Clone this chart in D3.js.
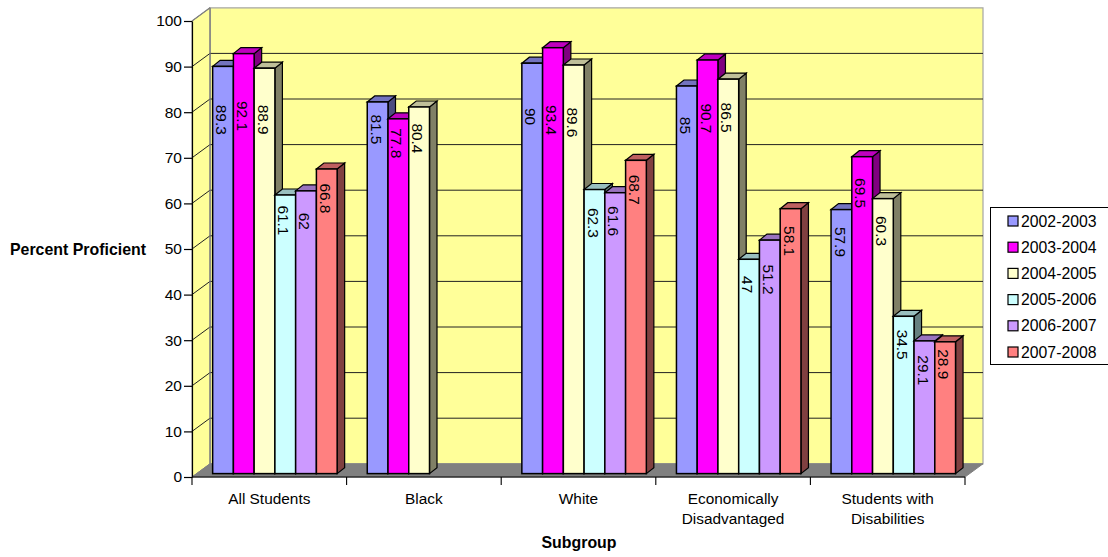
<!DOCTYPE html>
<html><head><meta charset="utf-8">
<script src="https://cdn.jsdelivr.net/npm/d3@7/dist/d3.min.js"></script>
<style>html,body{margin:0;padding:0;background:#fff}svg{display:block}text{font-family:"Liberation Sans",Arial,sans-serif;fill:#000}</style>
</head><body><svg id="c" width="1108" height="557"></svg>
<script>
const categories=["All Students","Black","White","Economically|Disadvantaged","Students with|Disabilities"];
const seriesNames=["2002-2003","2003-2004","2004-2005","2005-2006","2006-2007","2007-2008"];
const s2002=[89.3,81.5,90,85,57.9];
const s2003=[92.1,77.8,93.4,90.7,69.5];
const s2004=[88.9,80.4,89.6,86.5,60.3];
const s2005=[61.1,null,62.3,47,34.5];
const s2006=[62,null,61.6,51.2,29.1];
const s2007=[66.8,null,68.7,58.1,28.9];
const seriesValues=[s2002,s2003,s2004,s2005,s2006,s2007];
const yTicks=d3.range(0,101,10);
// styling and label placement (distance of each label's centre below its bar top)
const colors=["#9999FF","#FF00FF","#FFFFCC","#CCFFFF","#CC99FF","#FF8080"];
const sideColors=["#4d4d80","#800080","#808066","#668080","#664d80","#804040"];
const topColors=["#7373bf","#bf00bf","#bfbf99","#99bfbf","#9973bf","#bf6060"];
const labelDrop=[[54,28,54,40,33],[63,25,73,59,37],[52,32,58,39,33],[26,0,34,26,29],[31,0,29,40,30],[30,0,30,33,23]];

const svg=d3.select("#c");
const x=d3.scaleBand().domain(d3.range(categories.length)).range([192,965]);
const y=d3.scaleLinear().domain([0,100]).range([477,21]);
const inner=d3.scaleBand().domain(d3.range(6)).range([0,124.5]);
const wall={dx:18,dy:-13.2}, gap={dx:5.6,dy:-3.4}, depth={dx:7.5,dy:-6};
const X0=x.range()[0],X1=x.range()[1],Y0=y(0),Y1=y(100);
const poly=(pts)=>pts.map(p=>p.join(",")).join(" ");

// walls
svg.append("polygon").attr("points",poly([[X0+wall.dx,Y1+wall.dy],[X1+wall.dx,Y1+wall.dy],[X1+wall.dx,Y0+wall.dy],[X0+wall.dx,Y0+wall.dy]])).attr("fill","#FFFF99").attr("stroke","#a6a6a6").attr("stroke-width",1.2);
svg.append("polygon").attr("points",poly([[X0,Y1],[X0+wall.dx,Y1+wall.dy],[X0+wall.dx,Y0+wall.dy],[X0,Y0]])).attr("fill","#FFFF99").attr("stroke","#808080").attr("stroke-width",1);
svg.append("polygon").attr("points",poly([[X0,Y0],[X0+wall.dx,Y0+wall.dy],[X1+wall.dx,Y0+wall.dy],[X1,Y0]])).attr("fill","#808080").attr("stroke","#808080");
// grid
yTicks.filter(t=>t>0&&t<100).forEach(t=>{
  svg.append("polyline").attr("points",poly([[X0,y(t)],[X0+wall.dx,y(t)+wall.dy],[X1+wall.dx,y(t)+wall.dy]])).attr("fill","none").attr("stroke","#222").attr("stroke-width",1);
});
svg.append("line").attr("x1",X0).attr("y1",Y1).attr("x2",X0+wall.dx).attr("y2",Y1+wall.dy).attr("stroke","#808080").attr("stroke-width",1.2);
svg.append("line").attr("x1",X0+wall.dx).attr("y1",Y1+wall.dy).attr("x2",X0+wall.dx).attr("y2",Y0+wall.dy).attr("stroke","#808080").attr("stroke-width",1.2);

// bars
categories.forEach((c,g)=>{
  const gx=x(g)+(x.bandwidth()-inner.range()[1])/2+gap.dx;
  const base=y(0)+gap.dy;
  const gg=svg.append("g");
  seriesValues.forEach((vals,i)=>{
    const v=vals[g]; if(v==null) return;
    const x0=gx+inner(i), x1=x0+inner.bandwidth(), t=y(v)+gap.dy;
    gg.append("polygon").attr("points",poly([[x1,base],[x1+depth.dx,base+depth.dy],[x1+depth.dx,t+depth.dy],[x1,t]])).attr("fill",sideColors[i]).attr("stroke","#000").attr("stroke-width",1.2);
    gg.append("polygon").attr("points",poly([[x0,t],[x0+depth.dx,t+depth.dy],[x1+depth.dx,t+depth.dy],[x1,t]])).attr("fill",topColors[i]).attr("stroke","#000").attr("stroke-width",1.2);
    gg.append("rect").attr("x",x0).attr("y",t).attr("width",inner.bandwidth()).attr("height",base-t).attr("fill",colors[i]).attr("stroke","#000").attr("stroke-width",1.5);
  });
  seriesValues.forEach((vals,i)=>{
    const v=vals[g]; if(v==null) return;
    const xc=gx+inner(i)+inner.bandwidth()/2-1.5, t=y(v)+gap.dy;
    gg.append("text").attr("transform",`translate(${xc},${t+labelDrop[i][g]-0.6}) rotate(90)`).attr("text-anchor","middle").attr("dy","0.35em").attr("font-size",15.4).text(v);
  });
});

// axes
const axY=svg.append("g").attr("transform",`translate(${X0},0)`).call(d3.axisLeft(y).tickValues(yTicks).tickSize(8).tickSizeOuter(0).tickPadding(2));
axY.selectAll("text").attr("font-size",15.5).style("font-family","Liberation Sans");
axY.selectAll("line,path").attr("stroke","#000").attr("stroke-width",1.2);
const axX=svg.append("g").attr("transform",`translate(0,${Y0})`);
axX.append("line").attr("x1",X0).attr("x2",X1).attr("y1",0).attr("y2",0).attr("stroke","#000").attr("stroke-width",1.2);
d3.range(categories.length+1).forEach(i=>{
  const px=X0+i*x.step();
  axX.append("line").attr("x1",px).attr("x2",px).attr("y1",0).attr("y2",8).attr("stroke","#000").attr("stroke-width",1.1);
});
categories.forEach((c,g)=>{
  c.split("|").forEach((ln,k)=>{
    axX.append("text").attr("x",x(g)+x.bandwidth()/2).attr("y",27+k*20).attr("text-anchor","middle").attr("font-size",15.4).text(ln);
  });
});
// titles
svg.append("text").attr("x",78).attr("y",255).attr("text-anchor","middle").attr("font-size",15.9).attr("font-weight","bold").text("Percent Proficient");
svg.append("text").attr("x",579).attr("y",548).attr("text-anchor","middle").attr("font-size",15.9).attr("font-weight","bold").text("Subgroup");
// legend
const lg=svg.append("g");
lg.append("rect").attr("x",990.5).attr("y",207.5).attr("width",120).attr("height",157).attr("fill","#fff").attr("stroke","#000").attr("stroke-width",1);
seriesNames.forEach((n,i)=>{
  const cy=221+i*26.2;
  lg.append("rect").attr("x",1008).attr("y",cy-5).attr("width",10).attr("height",10).attr("fill",colors[i]).attr("stroke","#000").attr("stroke-width",1.2);
  lg.append("text").attr("x",1021).attr("y",cy+5.5).attr("font-size",15.8).text(n);
});
</script></body></html>
